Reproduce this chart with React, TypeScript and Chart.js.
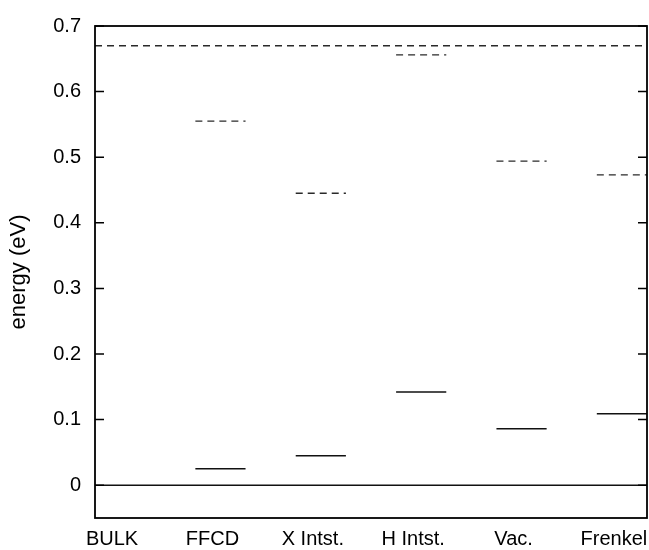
import React, { useEffect, useRef } from 'react';
import { Chart, registerables } from 'chart.js';

Chart.register(...registerables);

// ---- data ----
const categories = ['BULK', 'FFCD', 'X Intst.', 'H Intst.', 'Vac.', 'Frenkel'];
const occupiedLevels = [0, 0.025, 0.045, 0.142, 0.086, 0.109];
const emptyLevels = [0.67, 0.555, 0.445, 0.656, 0.494, 0.473];
const yTickValues = [0, 0.1, 0.2, 0.3, 0.4, 0.5, 0.6, 0.7];

const X_MIN = -0.25;
const X_MAX = 5.25;
const HALF_WIDTH = 0.25;
const Y_MIN = -0.05;
const Y_MAX = 0.7;
const FONT = "'Liberation Sans', Arial, Helvetica, sans-serif";

function segment(i: number, v: number) {
  if (i === 0) {
    return [
      { x: X_MIN, y: v },
      { x: X_MAX, y: v },
    ];
  }
  return [
    { x: i - HALF_WIDTH, y: v },
    { x: i + HALF_WIDTH, y: v },
  ];
}

const framePlugin = {
  id: 'frameTicks',
  afterDatasetsDraw(chart: any) {
    const { ctx, chartArea } = chart;
    const { left, right, top, bottom } = chartArea;
    const yScale = chart.scales.y;
    ctx.save();
    ctx.strokeStyle = '#000';
    ctx.lineWidth = 1.8;
    ctx.strokeRect(left, top, right - left, bottom - top);
    ctx.lineWidth = 1.5;
    const len = 9;
    yTickValues.forEach((v) => {
      const py = yScale.getPixelForValue(v);
      ctx.beginPath();
      ctx.moveTo(left, py);
      ctx.lineTo(left + len, py);
      ctx.moveTo(right, py);
      ctx.lineTo(right - len, py);
      ctx.stroke();
    });
    ctx.restore();
  },
};

export default function App() {
  const canvasRef = useRef<HTMLCanvasElement | null>(null);

  useEffect(() => {
    if (!canvasRef.current) return;
    const datasets: any[] = [];
    categories.forEach((c, i) => {
      datasets.push({
        label: c + ' occupied',
        data: segment(i, occupiedLevels[i]),
        borderColor: '#111',
        borderWidth: 1.4,
        pointRadius: 0,
        fill: false,
      });
      datasets.push({
        label: c + ' empty',
        data: segment(i, emptyLevels[i]),
        borderColor: '#2a2a2a',
        borderWidth: 1.4,
        borderDash: [7, 5],
        pointRadius: 0,
        fill: false,
      });
    });

    const chart = new Chart(canvasRef.current, {
      type: 'line',
      data: { datasets },
      plugins: [framePlugin],
      options: {
        animation: false,
        responsive: false,
        layout: { padding: { left: 0, right: 2, top: 19, bottom: 0 } },
        plugins: {
          legend: { display: false },
          tooltip: { enabled: false },
        },
        scales: {
          x: {
            type: 'linear',
            min: X_MIN,
            max: X_MAX,
            grid: { display: false, drawTicks: false },
            border: { display: false },
            afterBuildTicks: (scale: any) => {
              scale.ticks = categories.map((_, i) => ({ value: i }));
            },
            afterFit: (scale: any) => {
              scale.height = 32;
              scale.paddingLeft = 0;
              scale.paddingRight = 0;
            },
            ticks: {
              autoSkip: false,
              maxRotation: 0,
              minRotation: 0,
              padding: 9,
              labelOffset: -8,
              color: '#000',
              font: { family: FONT, size: 20 },
              callback: (v: any) => categories[Math.round(Number(v))] ?? '',
            },
          },
          y: {
            type: 'linear',
            min: Y_MIN,
            max: Y_MAX,
            grid: { display: false, drawTicks: false },
            border: { display: false },
            afterBuildTicks: (scale: any) => {
              scale.ticks = yTickValues.map((v) => ({ value: v }));
            },
            afterFit: (scale: any) => {
              scale.width = 95;
            },
            ticks: {
              padding: 14,
              color: '#000',
              font: { family: FONT, size: 20 },
              callback: (v: any) => String(Number(Number(v).toFixed(1))),
            },
            title: {
              display: true,
              text: 'energy (eV)',
              color: '#000',
              font: { family: FONT, size: 22 },
              padding: { top: 6, bottom: 0 },
            },
          },
        },
      },
    });
    return () => chart.destroy();
  }, []);

  return (
    <div style={{ position: 'absolute', left: 0, top: 0, width: 649, height: 550, background: '#fff' }}>
      <canvas ref={canvasRef} width={649} height={550} style={{ display: 'block' }} />
    </div>
  );
}
